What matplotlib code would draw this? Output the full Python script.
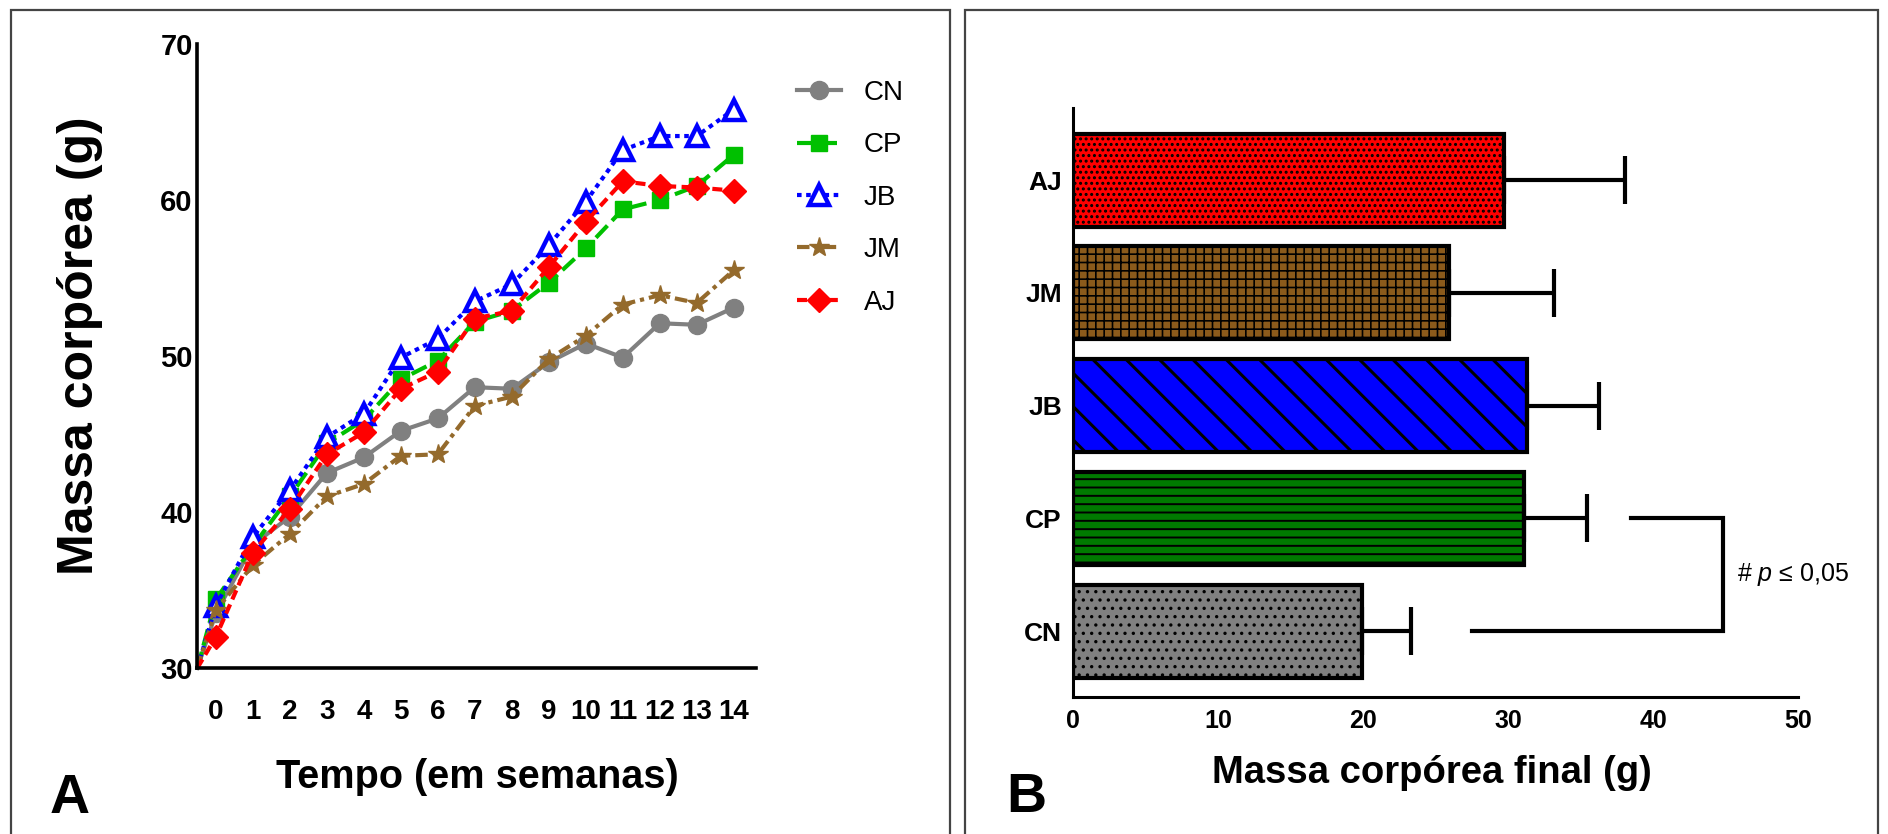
import numpy as np
import matplotlib
matplotlib.use("Agg")
import matplotlib.pyplot as plt
from matplotlib.patches import Rectangle

# Dados - painel A (massa corporea semanal, g)
semanas = list(range(15))
origem = (-0.5, 30)  # as linhas partem do canto do eixo
grupos = ['CN', 'CP', 'JB', 'JM', 'AJ']
massa_CN = [33.5, 37.9, 39.7, 42.5, 43.5, 45.2, 46.0, 48.0, 47.9, 49.6, 50.8, 49.9, 52.1, 52.0, 53.1]
massa_CP = [34.4, 37.8, 41.0, 44.4, 45.9, 48.5, 49.7, 52.2, 52.9, 54.7, 56.9, 59.4, 60.0, 60.9, 62.9]
massa_JB = [34.0, 38.4, 41.4, 44.8, 46.3, 49.9, 51.1, 53.5, 54.6, 57.1, 59.9, 63.2, 64.1, 64.1, 65.8]
massa_JM = [33.7, 36.6, 38.6, 41.0, 41.8, 43.6, 43.7, 46.8, 47.4, 49.8, 51.3, 53.3, 53.9, 53.4, 55.5]
massa_AJ = [32.0, 37.4, 40.2, 43.7, 45.1, 47.9, 49.0, 52.4, 52.9, 55.7, 58.6, 61.2, 60.9, 60.8, 60.6]

# Dados - painel B (massa corporea final, g)
grupos_b = ['CN', 'CP', 'JB', 'JM', 'AJ']
massa_final = [19.9, 31.1, 31.3, 25.9, 29.7]
erro_final = [3.4, 4.35, 5.0, 7.3, 8.4]

W, H = 1888, 834
ARIAL = ['Liberation Sans', 'DejaVu Sans']
plt.rcParams['font.family'] = ARIAL
plt.rcParams['mathtext.fontset'] = 'custom'
plt.rcParams['mathtext.it'] = 'Liberation Sans:italic'
plt.rcParams['hatch.linewidth'] = 1.5

fig = plt.figure(figsize=(W / 100, H / 100), dpi=100)


def fx(px):
    return px / W


def fy(py):
    return 1 - py / H


# molduras dos paineis
for x0, x1 in [(11, 950), (965, 1878)]:
    fig.patches.append(Rectangle((fx(x0), fy(900)), fx(x1 - x0), (900 - 10) / H,
                                 transform=fig.transFigure, fill=False,
                                 edgecolor='#444444', linewidth=1.6))

# ---------------- Painel A ----------------
ax1 = fig.add_axes([fx(197), fy(668), fx(756 - 197), (668 - 44) / H])

estilos = {
    'CN': dict(color='#808080', ls='-', marker='o', ms=13, mfc='#808080', mec='#808080'),
    'CP': dict(color='#00c000', ls=(0, (4, 1.6)), marker='s', ms=12, mfc='#00c000', mec='#00c000'),
    'JB': dict(color='#0000ff', ls=(0, (1.1, 1.1)), marker='^', ms=14, mfc='white', mec='#0000ff', mew=3.2),
    'JM': dict(color='#946a2c', ls=(0, (3, 1.2, 1, 1.2)), marker='*', ms=15, mfc='#946a2c', mec='#946a2c'),
    'AJ': dict(color='#ff0000', ls=(0, (2.4, 1.3)), marker='D', ms=12, mfc='#ff0000', mec='#ff0000'),
}
series = {'CN': massa_CN, 'CP': massa_CP, 'JB': massa_JB, 'JM': massa_JM, 'AJ': massa_AJ}

handles = []
for g in grupos:
    xs = [origem[0]] + semanas
    ys = [origem[1]] + series[g]
    ln, = ax1.plot(xs, ys, lw=3, markevery=list(range(1, len(xs))), clip_on=False,
                   **estilos[g])
    handles.append(ln)

ax1.set_xlim(-0.51, 14.6)
ax1.set_ylim(30, 70)
ax1.set_xticks(semanas)
ax1.set_yticks([30, 40, 50, 60, 70])
for s in ['top', 'right']:
    ax1.spines[s].set_visible(False)
for s in ['left', 'bottom']:
    ax1.spines[s].set_linewidth(2.6)
ax1.tick_params(axis='x', length=0, pad=22, labelsize=20)
ax1.tick_params(axis='y', length=0, pad=3, labelsize=21)
for lab in ax1.get_xticklabels() + ax1.get_yticklabels():
    lab.set_fontweight('bold')

leg = ax1.legend(handles, grupos, loc='upper left', frameon=False,
                 bbox_to_anchor=(fx(797), fy(80)), bbox_transform=fig.transFigure,
                 borderpad=0, borderaxespad=0, handlelength=1.6, handletextpad=0.8,
                 labelspacing=0.95, prop={'size': 20})

fig.text(fx(477), fy(777), 'Tempo (em semanas)', ha='center', va='center',
         weight='bold', fontsize=28.5)
fig.text(fx(80), fy(346), 'Massa corpórea (g)', ha='center', va='center',
         rotation=90, weight='bold', fontsize=36)
fig.text(fx(50), fy(813), 'A', ha='left', va='baseline', weight='bold', fontsize=40)

# ---------------- Painel B ----------------
ax2 = fig.add_axes([fx(1073), fy(697), fx(1798 - 1073), (697 - 108) / H])

cores_b = ['#808080', '#007a00', '#0000ff', '#8b5a1b', '#ff0000']
hatches_b = ['..', '--', '\\', '++', '...']
hatch_lw = [1.2, 1.4, 2.2, 1.2, 1.4]
pos = np.arange(len(grupos_b))

barras = ax2.barh(pos, massa_final, height=0.825, color=cores_b,
                  edgecolor='black', linewidth=3, zorder=2)
for b, h, lw in zip(barras, hatches_b, hatch_lw):
    b.set_hatch(h)
    if hasattr(b, 'set_hatch_linewidth'):
        b.set_hatch_linewidth(lw)

ax2.errorbar(massa_final, pos, xerr=[np.zeros(len(pos)), erro_final], fmt='none',
             ecolor='black', elinewidth=3, capsize=17, capthick=3, zorder=3)

# barra de significancia CP x CN
ax2.plot([38.5, 44.8, 44.8, 27.5], [1, 1, 0, 0], color='black', lw=3,
         solid_joinstyle='miter', clip_on=False)
ax2.text(45.8, 0.5, r'# $\it{p}$ ≤ 0,05', ha='left', va='center', fontsize=18)

ax2.set_xlim(0, 50)
ax2.set_ylim(-0.585, 4.64)
ax2.set_xticks([0, 10, 20, 30, 40, 50])
ax2.set_yticks(pos)
ax2.set_yticklabels(grupos_b)
for s in ['top', 'right']:
    ax2.spines[s].set_visible(False)
for s in ['left', 'bottom']:
    ax2.spines[s].set_linewidth(2.2)
ax2.tick_params(axis='x', length=0, pad=9, labelsize=18)
ax2.tick_params(axis='y', length=0, pad=8, labelsize=19)
for lab in ax2.get_xticklabels() + ax2.get_yticklabels():
    lab.set_fontweight('bold')

fig.text(fx(1432), fy(773), 'Massa corpórea final (g)', ha='center', va='center',
         weight='bold', fontsize=27.5)
fig.text(fx(1006), fy(812), 'B', ha='left', va='baseline', weight='bold', fontsize=40)

fig.savefig('out.png', dpi=100, facecolor='white')
